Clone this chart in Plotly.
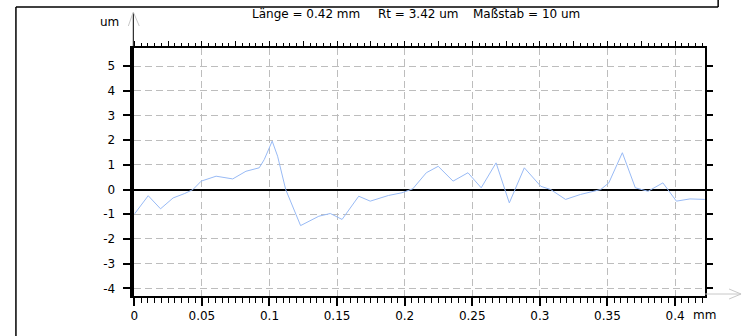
import plotly.graph_objects as go

# ---- data ----
x_mm = [0, 0.0103, 0.0194, 0.0287, 0.0373, 0.0434, 0.0495, 0.0605, 0.0728, 0.0826,
        0.0924, 0.0961, 0.102, 0.106, 0.112, 0.123, 0.1365, 0.145, 0.1537, 0.166,
        0.1745, 0.188, 0.198, 0.206, 0.216, 0.2248, 0.2358, 0.2468, 0.2566, 0.2676,
        0.2774, 0.2885, 0.3007, 0.308, 0.319, 0.330, 0.345, 0.351, 0.361, 0.3706,
        0.380, 0.391, 0.401, 0.411, 0.422]
y_um = [-1.0, -0.25, -0.78, -0.34, -0.16, 0.0, 0.34, 0.54, 0.43, 0.74,
        0.88, 1.21, 1.96, 1.35, 0.0, -1.46, -1.08, -0.97, -1.21, -0.27,
        -0.47, -0.24, -0.13, 0.03, 0.68, 0.94, 0.34, 0.68, 0.07, 1.08,
        -0.54, 0.88, 0.13, 0.0, -0.40, -0.20, 0.0, 0.27, 1.49, 0.07,
        -0.07, 0.27, -0.47, -0.38, -0.40]

x_tick_vals = [0, 0.05, 0.1, 0.15, 0.2, 0.25, 0.3, 0.35, 0.4]
x_tick_text = ["0", "0.05", "0.1", "0.15", "0.2", "0.25", "0.3", "0.35", "0.4"]
x_unit = "mm"
x_top_tick_vals = [i * 0.025 for i in range(17)]
y_tick_vals = [-4, -3, -2, -1, 0, 1, 2, 3, 4, 5]
y_tick_text = ["-4", "-3", "-2", "-1", "0", "1", "2", "3", "4", "5"]

title_parts = ["Länge = 0.42 mm", "Rt = 3.42 um", "Maßstab = 10 um"]
y_unit = "um"

x_range = [0, 0.4223]
y_range = [-4.31, 5.73]

# ---- layout geometry (pixels) ----
W, H = 745, 336
L, R, T, B = 131, 705, 48, 296


def px(x):
    return x / W


def py(y):
    return 1 - y / H


FONT = "DejaVu Sans"
tickfont = dict(family=FONT, size=12, color="black")
grid = dict(showgrid=True, gridcolor="#bdbdbd", griddash="7px,4px", gridwidth=1)

fig = go.Figure()
fig.add_trace(go.Scatter(x=x_mm, y=y_um, mode="lines",
                         line=dict(color="#98baf5", width=1),
                         showlegend=False, hoverinfo="skip"))
fig.add_trace(go.Scatter(x=x_mm, y=y_um, xaxis="x2", yaxis="y2", mode="lines",
                         line=dict(color="rgba(0,0,0,0)", width=0),
                         showlegend=False, hoverinfo="skip"))

fig.update_layout(
    width=W, height=H,
    margin=dict(l=0, r=0, t=0, b=0),
    paper_bgcolor="white", plot_bgcolor="white",
    showlegend=False,
    xaxis=dict(domain=[px(L), px(R)], range=x_range, anchor="y",
               tickmode="array", tickvals=x_tick_vals, ticktext=x_tick_text,
               ticks="outside", ticklen=8, tickwidth=1.5, tickcolor="black",
               showline=True, linecolor="black", linewidth=2,
               zeroline=False, tickfont=tickfont, ticklabelstandoff=0,
               minor=dict(dtick=0.005, tick0=0, ticks="outside", ticklen=5,
                          tickwidth=1, tickcolor="black", showgrid=False),
               **grid),
    yaxis=dict(domain=[1 - B / H, 1 - T / H], range=y_range, anchor="x",
               tickmode="array", tickvals=y_tick_vals, ticktext=y_tick_text,
               ticks="outside", ticklen=8, tickwidth=1.5, tickcolor="black",
               showline=True, linecolor="black", linewidth=3.5,
               zeroline=True, zerolinecolor="black", zerolinewidth=1.5,
               tickfont=tickfont, ticklabelstandoff=5,
               **grid),
    xaxis2=dict(overlaying="x", side="top", anchor="y", range=x_range,
                tickmode="array", tickvals=x_top_tick_vals,
                ticks="outside", ticklen=5, tickwidth=1, tickcolor="black",
                showticklabels=False, showline=True, linecolor="black",
                linewidth=1.5, showgrid=False, zeroline=False,
                minor=dict(dtick=0.005, tick0=0, ticks="outside", ticklen=3,
                           tickwidth=1, tickcolor="black", showgrid=False)),
    yaxis2=dict(overlaying="y", side="right", anchor="x", range=y_range,
                tickmode="array", tickvals=y_tick_vals,
                ticks="outside", ticklen=6, tickwidth=1.5, tickcolor="black",
                showticklabels=False, showline=True, linecolor="black",
                linewidth=1.5, showgrid=False, zeroline=False),
)

# decorative frame and axis arrows
line_black = dict(color="black", width=1.5)
shapes = [
    dict(type="line", xref="paper", yref="paper", x0=px(12), y0=py(7), x1=px(718), y1=py(7), line=line_black),
    dict(type="line", xref="paper", yref="paper", x0=px(12), y0=py(7), x1=px(12), y1=py(336), line=line_black),
    dict(type="line", xref="paper", yref="paper", x0=px(718), y0=py(0), x1=px(718), y1=py(7), line=line_black),
    dict(type="line", xref="paper", yref="paper", x0=px(L - 1), y0=py(13), x1=px(L - 1), y1=py(T), line=dict(color="black", width=1)),
    dict(type="path", xref="paper", yref="paper",
         path=f"M{px(125)},{py(26)} L{px(L - 1)},{py(12)} L{px(136)},{py(26)}",
         line=dict(color="#c8c8c8", width=1)),
    dict(type="line", xref="paper", yref="paper", x0=px(R), y0=py(294), x1=px(741), y1=py(294), line=dict(color="#c8c8c8", width=1)),
    dict(type="path", xref="paper", yref="paper",
         path=f"M{px(729)},{py(289)} L{px(741)},{py(294)} L{px(729)},{py(299)}",
         line=dict(color="#c8c8c8", width=1)),
]
fig.update_layout(shapes=shapes)

title_x = [247, 374, 470]
annotations = [
    dict(text=t, x=px(x0), y=py(14), xref="paper", yref="paper",
         xanchor="left", yanchor="middle", showarrow=False,
         font=dict(family=FONT, size=12, color="black"))
    for t, x0 in zip(title_parts, title_x)
]
annotations.append(dict(text=y_unit, x=px(118), y=py(22), xref="paper", yref="paper",
                        xanchor="right", yanchor="middle", showarrow=False,
                        font=dict(family=FONT, size=12, color="black")))
annotations.append(dict(text=x_unit, x=px(691), y=py(315), xref="paper", yref="paper",
                        xanchor="left", yanchor="middle", showarrow=False,
                        font=dict(family=FONT, size=12, color="black")))
fig.update_layout(annotations=annotations)

fig.write_html("out.html")
